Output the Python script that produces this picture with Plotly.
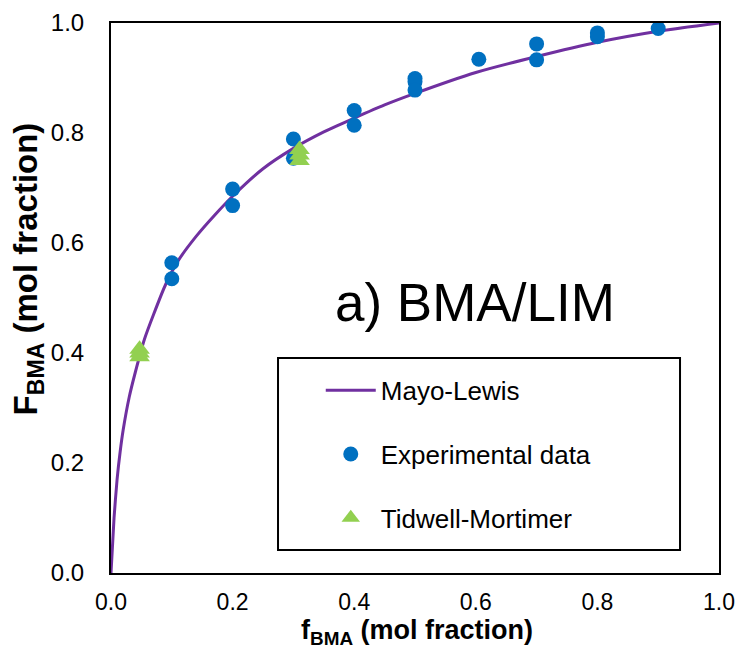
import plotly.graph_objects as go

# Mayo-Lewis copolymerization curve (f_BMA -> F_BMA)
curve_f = [0.0, 0.005, 0.01, 0.015, 0.02, 0.03, 0.04, 0.055, 0.07, 0.09, 0.11,
           0.14, 0.17, 0.2, 0.25, 0.3, 0.35, 0.4, 0.45, 0.5, 0.6, 0.7, 0.8, 0.9, 1.0]
curve_F = [0.0, 0.10, 0.17, 0.22, 0.26, 0.32, 0.365, 0.425, 0.47, 0.525, 0.567,
           0.612, 0.65, 0.685, 0.735, 0.772, 0.802, 0.827, 0.851, 0.872, 0.91,
           0.939, 0.965, 0.985, 1.0]

# Experimental copolymer compositions
exp_f = [0.1, 0.1, 0.2, 0.2, 0.3, 0.3, 0.4, 0.4, 0.5, 0.5, 0.5, 0.605, 0.7, 0.7,
         0.8, 0.8, 0.9]
exp_F = [0.564, 0.535, 0.698, 0.668, 0.789, 0.754, 0.841, 0.814, 0.899, 0.893,
         0.878, 0.934, 0.962, 0.933, 0.982, 0.975, 0.990]

# Tidwell-Mortimer points
tm_f = [0.047, 0.047, 0.047, 0.31, 0.31, 0.31]
tm_F = [0.393, 0.400, 0.407, 0.750, 0.760, 0.770]

x_ticks = [0.0, 0.2, 0.4, 0.6, 0.8, 1.0]
y_ticks = [0.0, 0.2, 0.4, 0.6, 0.8, 1.0]

FONT = "Liberation Sans, Arial, sans-serif"
PURPLE = "#7030A0"
BLUE = "#0070C0"
GREEN = "#92D050"

fig = go.Figure()

fig.add_trace(go.Scatter(
    x=curve_f, y=curve_F, mode="lines", name="Mayo-Lewis",
    line=dict(color=PURPLE, width=3, shape="spline", smoothing=0.6),
    legendgroup="a", legendrank=1,
))
fig.add_trace(go.Scatter(
    x=exp_f, y=exp_F, mode="markers", name="Experimental data",
    marker=dict(color=BLUE, size=15, symbol="circle"),
    legendgroup="b", legendrank=2,
))
fig.add_trace(go.Scatter(
    x=tm_f, y=tm_F, mode="markers", name="Tidwell-Mortimer",
    marker=dict(color=GREEN, size=18, symbol="triangle-up"),
    legendgroup="c", legendrank=3,
))

axis_common = dict(
    range=[0, 1], showgrid=False, zeroline=False, showline=True,
    linecolor="black", linewidth=2, mirror=True, ticks="",
    tickformat=".1f", automargin=False,
)

fig.update_layout(
    width=742, height=648,
    margin=dict(l=111, r=23, t=23, b=75, autoexpand=False),
    paper_bgcolor="white", plot_bgcolor="white",
    font=dict(family=FONT, color="black"),
    xaxis=dict(tickvals=x_ticks, ticklabelstandoff=7,
               tickfont=dict(family=FONT, size=23, color="black"), **axis_common),
    yaxis=dict(tickvals=y_ticks, ticklabelstandoff=20,
               tickfont=dict(family=FONT, size=24, color="black"), **axis_common),
    showlegend=True,
    legend=dict(
        x=0.345, y=0.375, xanchor="left", yanchor="top",
        bgcolor="rgba(0,0,0,0)", borderwidth=0, itemwidth=50,
        font=dict(family=FONT, size=26, color="black"),
        tracegroupgap=27, traceorder="grouped",
    ),
    shapes=[dict(
        type="rect", xref="paper", yref="paper",
        x0=0.2747, x1=0.9359, y0=0.0418, y1=0.391,
        line=dict(color="black", width=2), fillcolor="rgba(0,0,0,0)",
    )],
    annotations=[
        dict(text="a) BMA/LIM", x=0.598, y=0.4927, xref="paper", yref="paper",
             showarrow=False, xanchor="center", yanchor="middle",
             font=dict(family=FONT, size=53, color="black")),
        dict(text="<b>f<sub>BMA</sub> (mol fraction)</b>", x=0.503, y=-0.107,
             xref="paper", yref="paper", showarrow=False,
             xanchor="center", yanchor="middle",
             font=dict(family=FONT, size=27, color="black")),
        dict(text="<b>F<sub>BMA</sub> (mol fraction)</b>", x=-0.1365, y=0.552,
             xref="paper", yref="paper", showarrow=False, textangle=-90,
             xanchor="center", yanchor="middle",
             font=dict(family=FONT, size=33, color="black")),
    ],
)

fig.write_html("out.html")
